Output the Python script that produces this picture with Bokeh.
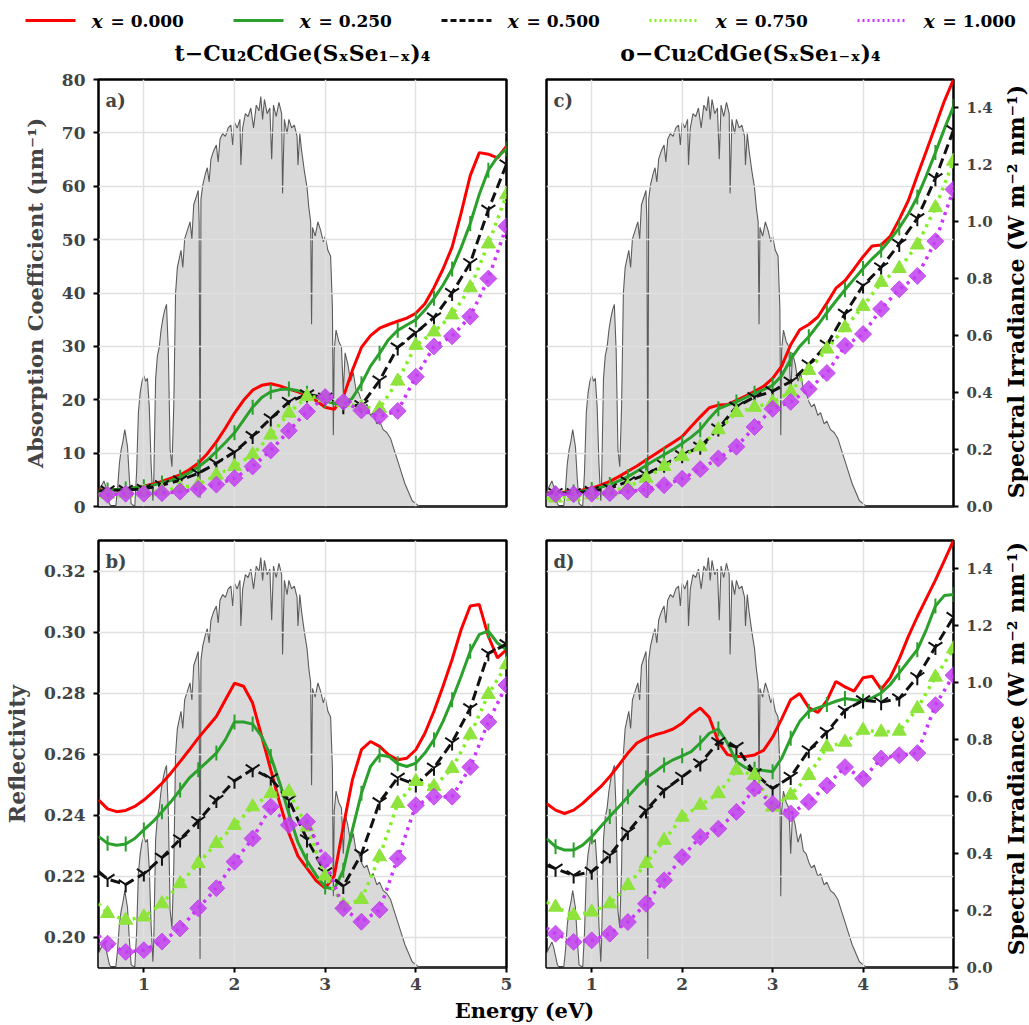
import math
from bokeh.plotting import figure
from bokeh.layouts import column, row
from bokeh.models import Range1d, LinearAxis, FixedTicker, PrintfTickFormatter, Label
from bokeh.core.properties import value
from bokeh.embed import file_html
from bokeh.resources import INLINE

FONT = "DejaVu Serif"

# ---------------- data ----------------
ENERGY_FINE = [round(0.5 + 0.1 * i, 1) for i in range(46)]          # 0.5 .. 5.0
ENERGY_MARK = [0.5] + [round(0.6 + 0.2 * i, 1) for i in range(23)]  # 0.5, 0.6 .. 5.0

SERIES_LABELS = ["0.000", "0.250", "0.500", "0.750", "1.000"]
TITLES = ["t−Cu₂CdGe(SₓSe₁₋ₓ)₄", "o−Cu₂CdGe(SₓSe₁₋ₓ)₄"]
IRR_LABEL = "Spectral Irradiance (W m⁻² nm⁻¹)"

# panel a: t-phase absorption coefficient (um^-1)
A_RED = [3.1, 3.2, 3.2, 3.3, 3.5, 3.8, 4.2, 4.7, 5.3, 5.9,
         6.9, 8.1, 9.9, 12.1, 14.7, 17.5, 19.9, 21.8, 22.7, 23.0,
         22.6, 22.0, 21.5, 20.8, 19.8, 18.6, 18.2, 20.5, 25.5, 29.8,
         32.0, 33.4, 34.1, 34.7, 35.3, 36.2, 38.0, 41.0, 44.5, 48.6,
         55.0, 62.0, 66.3, 66.0, 65.3, 67.5]
A_GREEN = [3.0, 3.1, 3.2, 3.3, 3.5, 3.7, 4.0, 4.4, 4.9, 5.5,
           6.3, 7.4, 8.7, 10.3, 12.0, 13.8, 16.2, 18.6, 20.4, 21.5,
           21.9, 22.0, 21.7, 21.2, 20.5, 19.8, 19.3, 19.2, 20.3, 23.0,
           26.3, 28.7, 31.3, 33.0, 34.0, 35.0, 36.8, 39.0, 41.5, 44.5,
           48.5, 53.0, 58.5, 63.0, 65.5, 67.0]
A_BLACK = [2.9, 3.0, 3.1, 3.3, 4.0, 4.9, 6.2, 8.1, 10.2, 13.2, 16.5, 19.6,
           21.0, 20.4, 18.8, 19.0, 23.6, 29.8, 32.6, 35.4, 40.0, 45.6, 55.6, 64.1]
A_LGREEN = [2.2, 2.3, 2.5, 2.7, 2.9, 3.5, 4.1, 5.9, 7.5, 9.7, 13.4, 17.5,
            20.6, 20.4, 19.5, 18.6, 18.4, 23.5, 30.2, 32.7, 35.9, 41.0, 49.2, 58.4]
A_MAGENTA = [2.1, 2.2, 2.4, 2.4, 2.5, 2.8, 3.3, 4.1, 5.3, 7.5, 10.5, 14.2,
             17.8, 20.5, 19.6, 18.0, 16.9, 17.9, 24.3, 30.0, 31.9, 35.6, 42.7, 52.5]

# panel b: t-phase reflectivity
B_RED = [0.2450, 0.2420, 0.2411, 0.2415, 0.2428, 0.2449, 0.2475, 0.2504, 0.2538, 0.2575,
         0.2613, 0.2652, 0.2688, 0.2723, 0.2778, 0.2832, 0.2822, 0.2767, 0.2658, 0.2548,
         0.2438, 0.2340, 0.2265, 0.2225, 0.2185, 0.2160, 0.2200, 0.2362, 0.2515, 0.2614,
         0.2641, 0.2625, 0.2597, 0.2581, 0.2586, 0.2614, 0.2668, 0.2740, 0.2822, 0.2910,
         0.3008, 0.3085, 0.3090, 0.2986, 0.2915, 0.2942]
B_GREEN = [0.2330, 0.2307, 0.2301, 0.2305, 0.2323, 0.2351, 0.2378, 0.2411, 0.2444, 0.2482,
           0.2521, 0.2548, 0.2575, 0.2603, 0.2647, 0.2705, 0.2705, 0.2698, 0.2658, 0.2592,
           0.2504, 0.2405, 0.2310, 0.2250, 0.2203, 0.2164, 0.2156, 0.2219, 0.2351, 0.2471,
           0.2559, 0.2597, 0.2592, 0.2568, 0.2559, 0.2570, 0.2603, 0.2647, 0.2707, 0.2778,
           0.2855, 0.2937, 0.2992, 0.3003, 0.2964, 0.2942]
B_BLACK = [0.2215, 0.2190, 0.2172, 0.2208, 0.2260, 0.2320, 0.2380, 0.2449, 0.2512, 0.2550,
           0.2520, 0.2449, 0.2320, 0.2212, 0.2167, 0.2272, 0.2442, 0.2522, 0.2500, 0.2555,
           0.2638, 0.2750, 0.2930, 0.2960]
B_LGREEN = [0.2110, 0.2077, 0.2055, 0.2066, 0.2109, 0.2175, 0.2241, 0.2307, 0.2366, 0.2427,
            0.2470, 0.2476, 0.2361, 0.2200, 0.2105, 0.2123, 0.2263, 0.2438, 0.2510, 0.2493,
            0.2553, 0.2663, 0.2795, 0.2893]
B_MAGENTA = [0.2005, 0.1978, 0.1951, 0.1957, 0.1985, 0.2028, 0.2094, 0.2160, 0.2247, 0.2323,
             0.2427, 0.2367, 0.2378, 0.2252, 0.2094, 0.2050, 0.2089, 0.2258, 0.2432, 0.2460,
             0.2460, 0.2557, 0.2705, 0.2826]

# panel c: o-phase absorption coefficient (um^-1)
C_RED = [2.5, 2.6, 2.7, 2.9, 3.1, 3.45, 4.0, 4.7, 5.6, 6.6,
         7.6, 8.7, 9.8, 10.9, 12.0, 13.1, 15.0, 16.8, 18.5, 19.0,
         19.1, 19.9, 20.7, 21.6, 22.5, 24.0, 26.3, 30.3, 33.1, 34.1,
         35.5, 38.1, 40.9, 42.3, 44.5, 46.8, 48.8, 49.0, 50.6, 53.8,
         57.3, 62.0, 66.6, 71.3, 76.0, 80.0]
C_GREEN = [2.4, 2.5, 2.6, 2.7, 2.9, 3.2, 3.6, 4.1, 4.8, 5.6,
           6.6, 7.7, 8.7, 9.7, 10.7, 11.8, 13.0, 14.4, 16.5, 18.3,
           19.0, 19.6, 20.4, 21.2, 21.9, 22.7, 24.5, 27.6, 30.0, 31.8,
           34.0, 36.3, 38.5, 40.6, 42.6, 44.6, 46.4, 48.0, 50.0, 52.2,
           54.8, 58.0, 62.0, 66.3, 70.8, 75.0]
C_BLACK = [2.5, 2.5, 2.5, 2.9, 3.4, 4.7, 6.0, 7.8, 9.6, 11.2, 14.6, 18.7,
           20.5, 21.6, 23.4, 26.6, 30.3, 36.1, 41.4, 44.8, 49.2, 54.0, 61.5, 70.5]
C_LGREEN = [1.5, 1.6, 1.9, 2.2, 2.8, 3.7, 5.3, 7.5, 9.4, 11.2, 14.4, 17.6,
            18.6, 19.5, 21.5, 25.5, 29.5, 33.5, 37.5, 42.0, 44.6, 49.0, 56.0, 64.7]
C_MAGENTA = [2.3, 2.3, 2.3, 2.4, 2.5, 2.8, 3.2, 4.0, 5.2, 7.0, 9.0, 11.2,
             14.9, 18.3, 19.6, 22.0, 25.0, 30.1, 32.3, 37.0, 40.7, 43.2, 49.7, 59.4]

# panel d: o-phase reflectivity
D_RED = [0.2438, 0.2416, 0.2405, 0.2416, 0.2438, 0.2466, 0.2493, 0.2526, 0.2564, 0.2603,
         0.2636, 0.2652, 0.2663, 0.2671, 0.2682, 0.2701, 0.2729, 0.2751, 0.2720, 0.2640,
         0.2598, 0.2592, 0.2592, 0.2597, 0.2612, 0.2655, 0.2715, 0.2778, 0.2798, 0.2752,
         0.2736, 0.2775, 0.2838, 0.2820, 0.2806, 0.2850, 0.2855, 0.2812, 0.2850, 0.2912,
         0.2985, 0.3050, 0.3110, 0.3170, 0.3235, 0.3300]
D_GREEN = [0.2323, 0.2296, 0.2285, 0.2285, 0.2301, 0.2329, 0.2362, 0.2395, 0.2427, 0.2460,
           0.2493, 0.2521, 0.2542, 0.2564, 0.2581, 0.2594, 0.2608, 0.2636, 0.2668, 0.2682,
           0.2636, 0.2575, 0.2555, 0.2550, 0.2546, 0.2542, 0.2586, 0.2652, 0.2707, 0.2740,
           0.2751, 0.2762, 0.2773, 0.2782, 0.2778, 0.2773, 0.2784, 0.2800, 0.2827, 0.2866,
           0.2904, 0.2942, 0.3008, 0.3085, 0.3120, 0.3123]
D_BLACK = [0.2235, 0.2224, 0.2202, 0.2214, 0.2268, 0.2344, 0.2415, 0.2481, 0.2525, 0.2569,
           0.2639, 0.2623, 0.2536, 0.2487, 0.2525, 0.2612, 0.2672, 0.2743, 0.2776, 0.2770,
           0.2782, 0.2852, 0.2951, 0.3049]
D_LGREEN = [0.2115, 0.2098, 0.2071, 0.2082, 0.2109, 0.2169, 0.2241, 0.2317, 0.2393, 0.2432,
            0.2470, 0.2547, 0.2530, 0.2426, 0.2465, 0.2530, 0.2623, 0.2639, 0.2678, 0.2672,
            0.2675, 0.2749, 0.2852, 0.2945]
D_MAGENTA = [0.2030, 0.2011, 0.1984, 0.1989, 0.2011, 0.2049, 0.2109, 0.2186, 0.2262, 0.2328,
             0.2355, 0.2410, 0.2487, 0.2437, 0.2405, 0.2443, 0.2497, 0.2557, 0.2519, 0.2585,
             0.2596, 0.2603, 0.2760, 0.2858]

# AM1.5 solar spectral irradiance (W m^-2 nm^-1) versus photon energy (eV)
SOLAR_E = [0.50, 0.53, 0.56, 0.58, 0.60, 0.62, 0.64, 0.69, 0.71, 0.73,
           0.75, 0.77, 0.79, 0.80, 0.82, 0.84, 0.86, 0.90, 0.92, 0.94,
           0.96, 0.98, 1.00, 1.02, 1.04, 1.06, 1.08, 1.10, 1.11, 1.13,
           1.15, 1.17, 1.19, 1.21, 1.23, 1.25, 1.27, 1.29, 1.31, 1.33,
           1.35, 1.37, 1.39, 1.41, 1.43, 1.45, 1.48, 1.51, 1.53, 1.55,
           1.58, 1.60, 1.61, 1.62, 1.63, 1.65, 1.68, 1.70, 1.72, 1.74,
           1.77, 1.80, 1.82, 1.84, 1.87, 1.90, 1.93, 1.96, 1.98, 2.00,
           2.03, 2.06, 2.07, 2.09, 2.12, 2.15, 2.18, 2.21, 2.24, 2.27,
           2.29, 2.31, 2.33, 2.36, 2.39, 2.41, 2.43, 2.46, 2.49, 2.52,
           2.53, 2.55, 2.58, 2.60, 2.63, 2.66, 2.69, 2.70, 2.72, 2.74,
           2.77, 2.80, 2.82, 2.84, 2.85, 2.86, 2.89, 2.92, 2.95, 2.98,
           3.00, 3.03, 3.06, 3.08, 3.09, 3.10, 3.12, 3.15, 3.18, 3.20,
           3.22, 3.25, 3.28, 3.31, 3.34, 3.37, 3.40, 3.43, 3.46, 3.50,
           3.53, 3.57, 3.60, 3.64, 3.68, 3.72, 3.76, 3.80, 3.84, 3.88,
           3.92, 3.96, 4.00, 4.04, 5.00]
SOLAR_I = [0.05, 0.07, 0.09, 0.07, 0.04, 0.01, 0.00, 0.00, 0.06, 0.15,
           0.20, 0.23, 0.27, 0.25, 0.21, 0.10, 0.01, 0.00, 0.12, 0.33,
           0.40, 0.44, 0.46, 0.44, 0.45, 0.35, 0.15, 0.02, 0.10, 0.45,
           0.53, 0.56, 0.62, 0.66, 0.69, 0.71, 0.55, 0.20, 0.14, 0.35,
           0.75, 0.84, 0.87, 0.90, 0.84, 0.94, 0.97, 1.00, 0.94, 1.06,
           1.09, 1.11, 1.00, 0.03, 1.08, 1.13, 1.17, 1.19, 1.14, 1.22,
           1.25, 1.27, 1.21, 1.29, 1.31, 1.30, 1.33, 1.34, 1.27, 1.35,
           1.33, 1.36, 1.20, 1.33, 1.38, 1.37, 1.40, 1.33, 1.41, 1.39,
           1.44, 1.36, 1.43, 1.38, 1.40, 1.22, 1.41, 1.37, 1.42, 1.38,
           1.10, 1.36, 1.31, 1.36, 1.33, 1.34, 1.30, 1.20, 1.31, 1.25,
           1.18, 1.12, 1.05, 1.00, 0.64, 0.98, 0.95, 1.00, 0.97, 0.93,
           0.95, 0.90, 0.88, 0.70, 0.25, 0.55, 0.62, 0.58, 0.56, 0.40,
           0.54, 0.50, 0.44, 0.47, 0.41, 0.40, 0.37, 0.35, 0.36, 0.32,
           0.33, 0.29, 0.30, 0.27, 0.26, 0.24, 0.20, 0.16, 0.12, 0.08,
           0.05, 0.02, 0.01, 0.00, 0.00]

ABS_TICKS = [0, 10, 20, 30, 40, 50, 60, 70, 80]
REFL_TICKS = [0.20, 0.22, 0.24, 0.26, 0.28, 0.30, 0.32]
IRR_TICKS = [0.0, 0.2, 0.4, 0.6, 0.8, 1.0, 1.2, 1.4]
E_TICKS = [1, 2, 3, 4, 5]

# ---------------- styles / layout ----------------
RED = "#ff0000"
GREEN = "#2ca02c"
BLACK = "#111111"
LGREEN_LINE = "#80f020"
LGREEN_MARK = "#8ee33c"
MAGENTA_LINE = "#cc33ff"
MAGENTA_MARK = "#c23ff0"
FILL_GREY = "#d9d9d9"
SPEC_LINE = "#5c5c5c"

FRAME_H = 427.0
PX_PER_EV = 90.4
HEADER_H = 66
ROW1_H = 456
ROW2_H = 475
FOOTER_H = 27


def style_axis(ax, tick_size="17px"):
    ax.major_label_text_font = FONT
    ax.major_label_text_font_style = "bold"
    ax.major_label_text_font_size = tick_size
    ax.axis_label_text_font = FONT
    ax.axis_label_text_font_style = "bold"
    ax.major_tick_in = 0
    ax.major_tick_out = 5
    ax.major_tick_line_width = 2
    ax.major_tick_line_color = "black"
    ax.minor_tick_line_color = None
    ax.axis_line_color = None


def make_panel(kind, red, green, black, lgreen, magenta, tag, first_col, bottom_row):
    width = 526 if first_col else 472
    height = ROW2_H if bottom_row else ROW1_H
    if kind == "abs":
        yr = Range1d(0, 80)
        yticks = ABS_TICKS
    else:
        yr = Range1d(0.19, 0.33)
        yticks = REFL_TICKS
    yspan = yr.end - yr.start
    p = figure(width=width, height=height, x_range=Range1d(0.5, 5.0), y_range=yr,
               output_backend="svg", toolbar_location=None,
               min_border_left=98 if first_col else 20,
               min_border_right=20 if first_col else 45,
               min_border_top=18 if bottom_row else 13,
               min_border_bottom=30 if bottom_row else 16)
    p.extra_y_ranges = {"irr": Range1d(0, 1.5)}
    p.outline_line_color = "black"
    p.outline_line_width = 2.5
    p.background_fill_color = "white"
    p.border_fill_color = "white"

    # axes and grid
    p.xaxis.ticker = FixedTicker(ticks=E_TICKS)
    p.yaxis.ticker = FixedTicker(ticks=yticks)
    p.xgrid.ticker = FixedTicker(ticks=E_TICKS)
    p.ygrid.ticker = FixedTicker(ticks=yticks)
    p.grid.grid_line_color = "#e0e0e0"
    p.grid.grid_line_width = 1.5
    style_axis(p.xaxis[0])
    p.xaxis.major_label_standoff = 5
    style_axis(p.yaxis[0])
    p.yaxis.major_label_standoff = 8
    p.yaxis.axis_label_standoff = 11
    if kind == "abs":
        p.yaxis.axis_label = "Absorption Coefficient (μm⁻¹)"
        p.yaxis.axis_label_text_font_size = "21px"
    else:
        p.yaxis.formatter = PrintfTickFormatter(format="%.2f")
        p.yaxis.axis_label = "Reflectivity"
        p.yaxis.axis_label_text_font_size = "22px"
    if not bottom_row:
        p.xaxis.visible = False
    if not first_col:
        p.yaxis.visible = False
        ra = LinearAxis(y_range_name="irr", ticker=FixedTicker(ticks=IRR_TICKS),
                        formatter=PrintfTickFormatter(format="%.1f"))
        style_axis(ra, tick_size="15px")
        ra.major_label_standoff = 8
        p.add_layout(ra, "right")

    # solar spectrum (behind everything)
    p.varea(x=SOLAR_E, y1=0, y2=SOLAR_I, y_range_name="irr", fill_color=FILL_GREY, level="image")
    p.line(SOLAR_E, SOLAR_I, y_range_name="irr", line_color=SPEC_LINE, line_width=1.1, level="image")

    # series
    p.line(ENERGY_FINE, red, line_color=RED, line_width=3)
    p.line(ENERGY_FINE, green, line_color=GREEN, line_width=3)
    p.scatter(ENERGY_FINE[1::2], green[1::2], marker="dash", angle=math.pi / 2, size=15,
              line_color=GREEN, line_width=2)
    p.line(ENERGY_MARK, black, line_color=BLACK, line_width=3, line_dash="10 5")
    p.scatter(ENERGY_MARK[1:], black[1:], marker="y", size=16, line_color=BLACK, line_width=2)
    p.line(ENERGY_MARK, lgreen, line_color=LGREEN_LINE, line_width=3.5, line_dash="3 5")
    p.scatter(ENERGY_MARK[1:], lgreen[1:], marker="triangle", size=14,
              fill_color=LGREEN_MARK, line_color=LGREEN_MARK)
    p.line(ENERGY_MARK, magenta, line_color=MAGENTA_LINE, line_width=3.5, line_dash="3 5")
    p.scatter(ENERGY_MARK[1:], magenta[1:], marker="square", angle=math.pi / 4, size=12,
              fill_color=MAGENTA_MARK, line_color=MAGENTA_MARK, fill_alpha=0.85, line_alpha=0.85)

    # panel tag
    p.add_layout(Label(x=0.5 + 7.0 / PX_PER_EV, y=yr.end - yspan * 10.0 / FRAME_H, text=tag,
                       text_font=FONT, text_font_style="bold", text_font_size="18px",
                       text_baseline="top", text_align="left"))
    return p


def side_label(height, frame_top_local):
    """Narrow strip to the right of a panel carrying the rotated irradiance label."""
    s = figure(width=30, height=height, x_range=Range1d(0, 30), y_range=Range1d(0, height),
               output_backend="svg", toolbar_location=None, min_border=0,
               x_axis_location=None, y_axis_location=None)
    s.outline_line_color = None
    s.grid.visible = False
    yc = height - (frame_top_local + FRAME_H / 2)
    s.text(x=[17], y=[yc], text=[IRR_LABEL], angle=math.pi / 2, text_font=value(FONT),
           text_font_style="bold", text_font_size="22px",
           text_align="center", text_baseline="middle")
    return s


pa = make_panel("abs", A_RED, A_GREEN, A_BLACK, A_LGREEN, A_MAGENTA, "a)", True, False)
pc = make_panel("abs", C_RED, C_GREEN, C_BLACK, C_LGREEN, C_MAGENTA, "c)", False, False)
pb = make_panel("refl", B_RED, B_GREEN, B_BLACK, B_LGREEN, B_MAGENTA, "b)", True, True)
pd = make_panel("refl", D_RED, D_GREEN, D_BLACK, D_LGREEN, D_MAGENTA, "d)", False, True)
sc = side_label(ROW1_H, 13)
sd = side_label(ROW2_H, 18)

# ---------------- header: legend + column titles ----------------
header = figure(width=1028, height=HEADER_H, x_range=Range1d(0, 1028), y_range=Range1d(HEADER_H, 0),
                output_backend="svg", toolbar_location=None, min_border=0,
                x_axis_location=None, y_axis_location=None)
header.outline_line_color = None
header.grid.visible = False

LEG_STYLES = [(RED, "solid"), (GREEN, "solid"), (BLACK, "6 3"),
              (LGREEN_LINE, "2 3"), (MAGENTA_LINE, "2 3")]
for i, (lab, (col, dash)) in enumerate(zip(SERIES_LABELS, LEG_STYLES)):
    x0 = 25 + 208 * i
    header.line([x0, x0 + 50], [20, 20], line_color=col, line_width=3, line_dash=dash)
    header.text(x=[x0 + 66], y=[20], text=["x"], text_font=value(FONT),
                text_font_style="bold italic", text_font_size="19px",
                text_baseline="middle", text_align="left")
    header.text(x=[x0 + 85], y=[20], text=["= " + lab], text_font=value(FONT),
                text_font_style="bold", text_font_size="17px",
                text_baseline="middle", text_align="left")

header.text(x=[302, 750], y=[52, 52], text=TITLES, text_font=value(FONT),
            text_font_style="bold", text_font_size="22px",
            text_baseline="middle", text_align="center")

# ---------------- footer: shared x label ----------------
footer = figure(width=1028, height=FOOTER_H, x_range=Range1d(0, 1028), y_range=Range1d(FOOTER_H, 0),
                output_backend="svg", toolbar_location=None, min_border=0,
                x_axis_location=None, y_axis_location=None)
footer.outline_line_color = None
footer.grid.visible = False
footer.text(x=[524], y=[12.5], text=["Energy (eV)"], text_font=value(FONT),
            text_font_style="bold", text_font_size="21px",
            text_baseline="middle", text_align="center")

layout = column(header, row(pa, pc, sc), row(pb, pd, sd), footer)
open("out.html", "w").write(file_html(layout, INLINE))
